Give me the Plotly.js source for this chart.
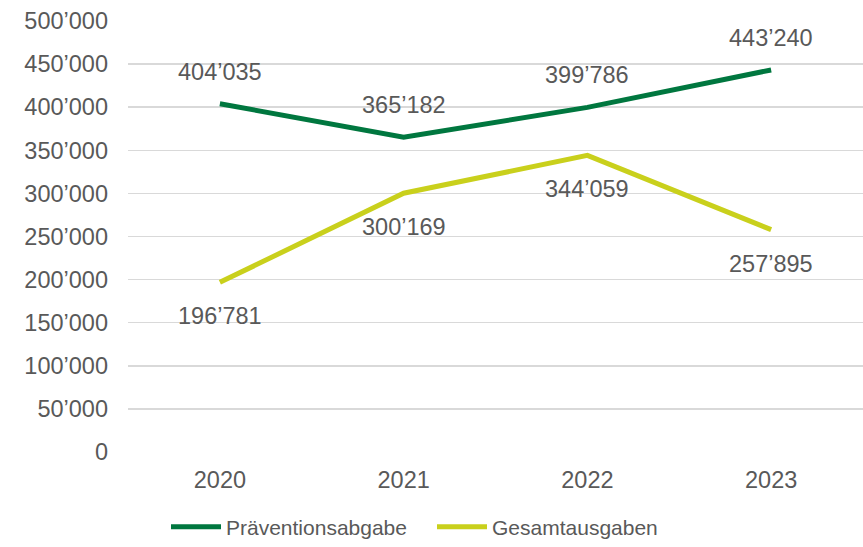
<!DOCTYPE html>
<html><head><meta charset="utf-8">
<script src="https://cdn.plot.ly/plotly-3.0.1.min.js"></script>
<style>html,body{margin:0;padding:0;background:#fff}</style>
</head><body><div id="chart" style="width:863px;height:547px"></div>
<script>
const years = [2020, 2021, 2022, 2023];
const yearLabels = ['2020','2021','2022','2023'];
const praevention = [404035, 365182, 399786, 443240];
const gesamt = [196781, 300169, 344059, 257895];
const praeventionLabels = ['404’035','365’182','399’786','443’240'];
const gesamtLabels = ['196’781','300’169','344’059','257’895'];
const yTickVals = [0,50000,100000,150000,200000,250000,300000,350000,400000,450000,500000];
const yTickText = ['0','50’000','100’000','150’000','200’000','250’000','300’000','350’000','400’000','450’000','500’000'];

const green = '#00773F', yellow = '#C9D01C';
const font = 'Liberation Sans, Arial, sans-serif';
const grey = '#595959';

const traces = [
  {x: years, y: praevention, name: 'Präventionsabgabe', mode: 'lines', line: {color: green, width: 5}},
  {x: years, y: gesamt, name: 'Gesamtausgaben', mode: 'lines', line: {color: yellow, width: 5}}
];
const annotations = [];
years.forEach((yr, i) => {
  annotations.push({x: yr, y: praevention[i], text: praeventionLabels[i], showarrow: false, yshift: 32, font: {family: font, size: 23.5, color: grey}});
  annotations.push({x: yr, y: gesamt[i], text: gesamtLabels[i], showarrow: false, yshift: -34, font: {family: font, size: 23.5, color: grey}});
});

const layout = {
  width: 863, height: 547,
  margin: {l: 128, r: 0, t: 21, b: 95, autoexpand: false},
  paper_bgcolor: '#fff', plot_bgcolor: '#fff',
  font: {family: font, size: 23.5, color: grey},
  showlegend: true,
  legend: {orientation: 'h', x: 166/863, xanchor: 'left', xref: 'container', y: 20/547, yref: 'container', yanchor: 'middle', font: {size: 21, color: grey}, itemwidth: 50, entrywidth: 201, tracegroupgap: 0},
  xaxis: {range: [2019.5, 2023.5], tickvals: years, ticktext: yearLabels, showgrid: false, zeroline: false, showline: false, ticks: '', tickfont: {size: 23.5, color: grey}, ticklabelstandoff: 11, automargin: false},
  yaxis: {range: [0, 500000], tickvals: yTickVals, ticktext: yTickText, showgrid: true, gridcolor: '#D9D9D9', gridwidth: 1.5, zeroline: false, showline: false, ticks: '', tickfont: {size: 23.5, color: grey}, ticklabelstandoff: 19, automargin: false},
  annotations: annotations
};
Plotly.newPlot('chart', traces, layout, {displayModeBar: false, staticPlot: true});
</script></body></html>
